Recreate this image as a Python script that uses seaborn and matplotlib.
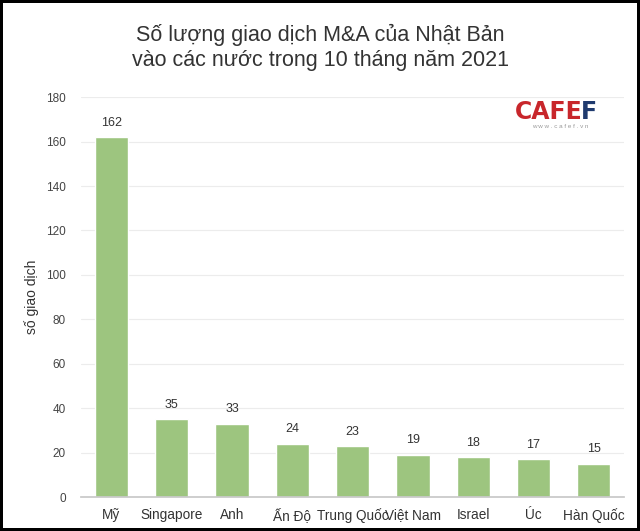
import matplotlib
matplotlib.use("Agg")
import matplotlib.pyplot as plt
import seaborn as sns
import pandas as pd

countries = ["Mỹ", "Singapore", "Anh", "Ấn Độ", "Trung Quốc", "Việt Nam", "Israel", "Úc", "Hàn Quốc"]
deals = [162, 35, 33, 24, 23, 19, 18, 17, 15]
yticks = [0, 20, 40, 60, 80, 100, 120, 140, 160, 180]

sns.set_theme(style="white")
plt.rcParams['font.family'] = ['Liberation Sans', 'DejaVu Sans']

df = pd.DataFrame({"country": countries, "deals": deals})

fig = plt.figure(figsize=(6.4, 5.31), dpi=100)
ax = fig.add_axes([0.127, 0.064, 0.848, 0.753])
sns.barplot(data=df, x="country", y="deals", color="#9DC57F", saturation=1, width=0.55, ax=ax)

ax.set_ylim(0, 180)
ax.set_yticks(yticks)
ax.yaxis.grid(True, color="#ECECEC", linewidth=0.8)
ax.set_axisbelow(True)
for s in ["top", "right", "left"]:
    ax.spines[s].set_visible(False)
ax.spines["bottom"].set_color("#C8C8C8")
ax.tick_params(axis="y", labelsize=8.5, colors="#444444", length=0, pad=11)
ax.tick_params(axis="x", labelsize=9.8, colors="#333333", length=0, pad=8)
ax.set_xlabel("")
ax.set_ylabel("số giao dịch", fontsize=10, color="#333333", labelpad=5)

for c in ax.containers:
    ax.bar_label(c, fontsize=9, color="#333333", padding=6)

fig.text(0.5, 0.955, "Số lượng giao dịch M&A của Nhật Bản\nvào các nước trong 10 tháng năm 2021",
         ha="center", va="top", fontsize=15.5, color="#333333", linespacing=1.25)

fig.text(0.91, 0.79, "CAFE", ha="right", va="center", fontsize=17, fontweight="bold",
         color="#C8262B", family="DejaVu Sans")
fig.text(0.908, 0.79, "F", ha="left", va="center", fontsize=17, fontweight="bold",
         color="#1F3A6E", family="DejaVu Sans")
fig.text(0.875, 0.762, "w w w . c a f e f . v n", ha="center", va="center", fontsize=4.5, color="#999999")

fig.patch.set_edgecolor("black")
fig.patch.set_linewidth(3)
fig.savefig("out.png", dpi=100, edgecolor=fig.get_edgecolor())
